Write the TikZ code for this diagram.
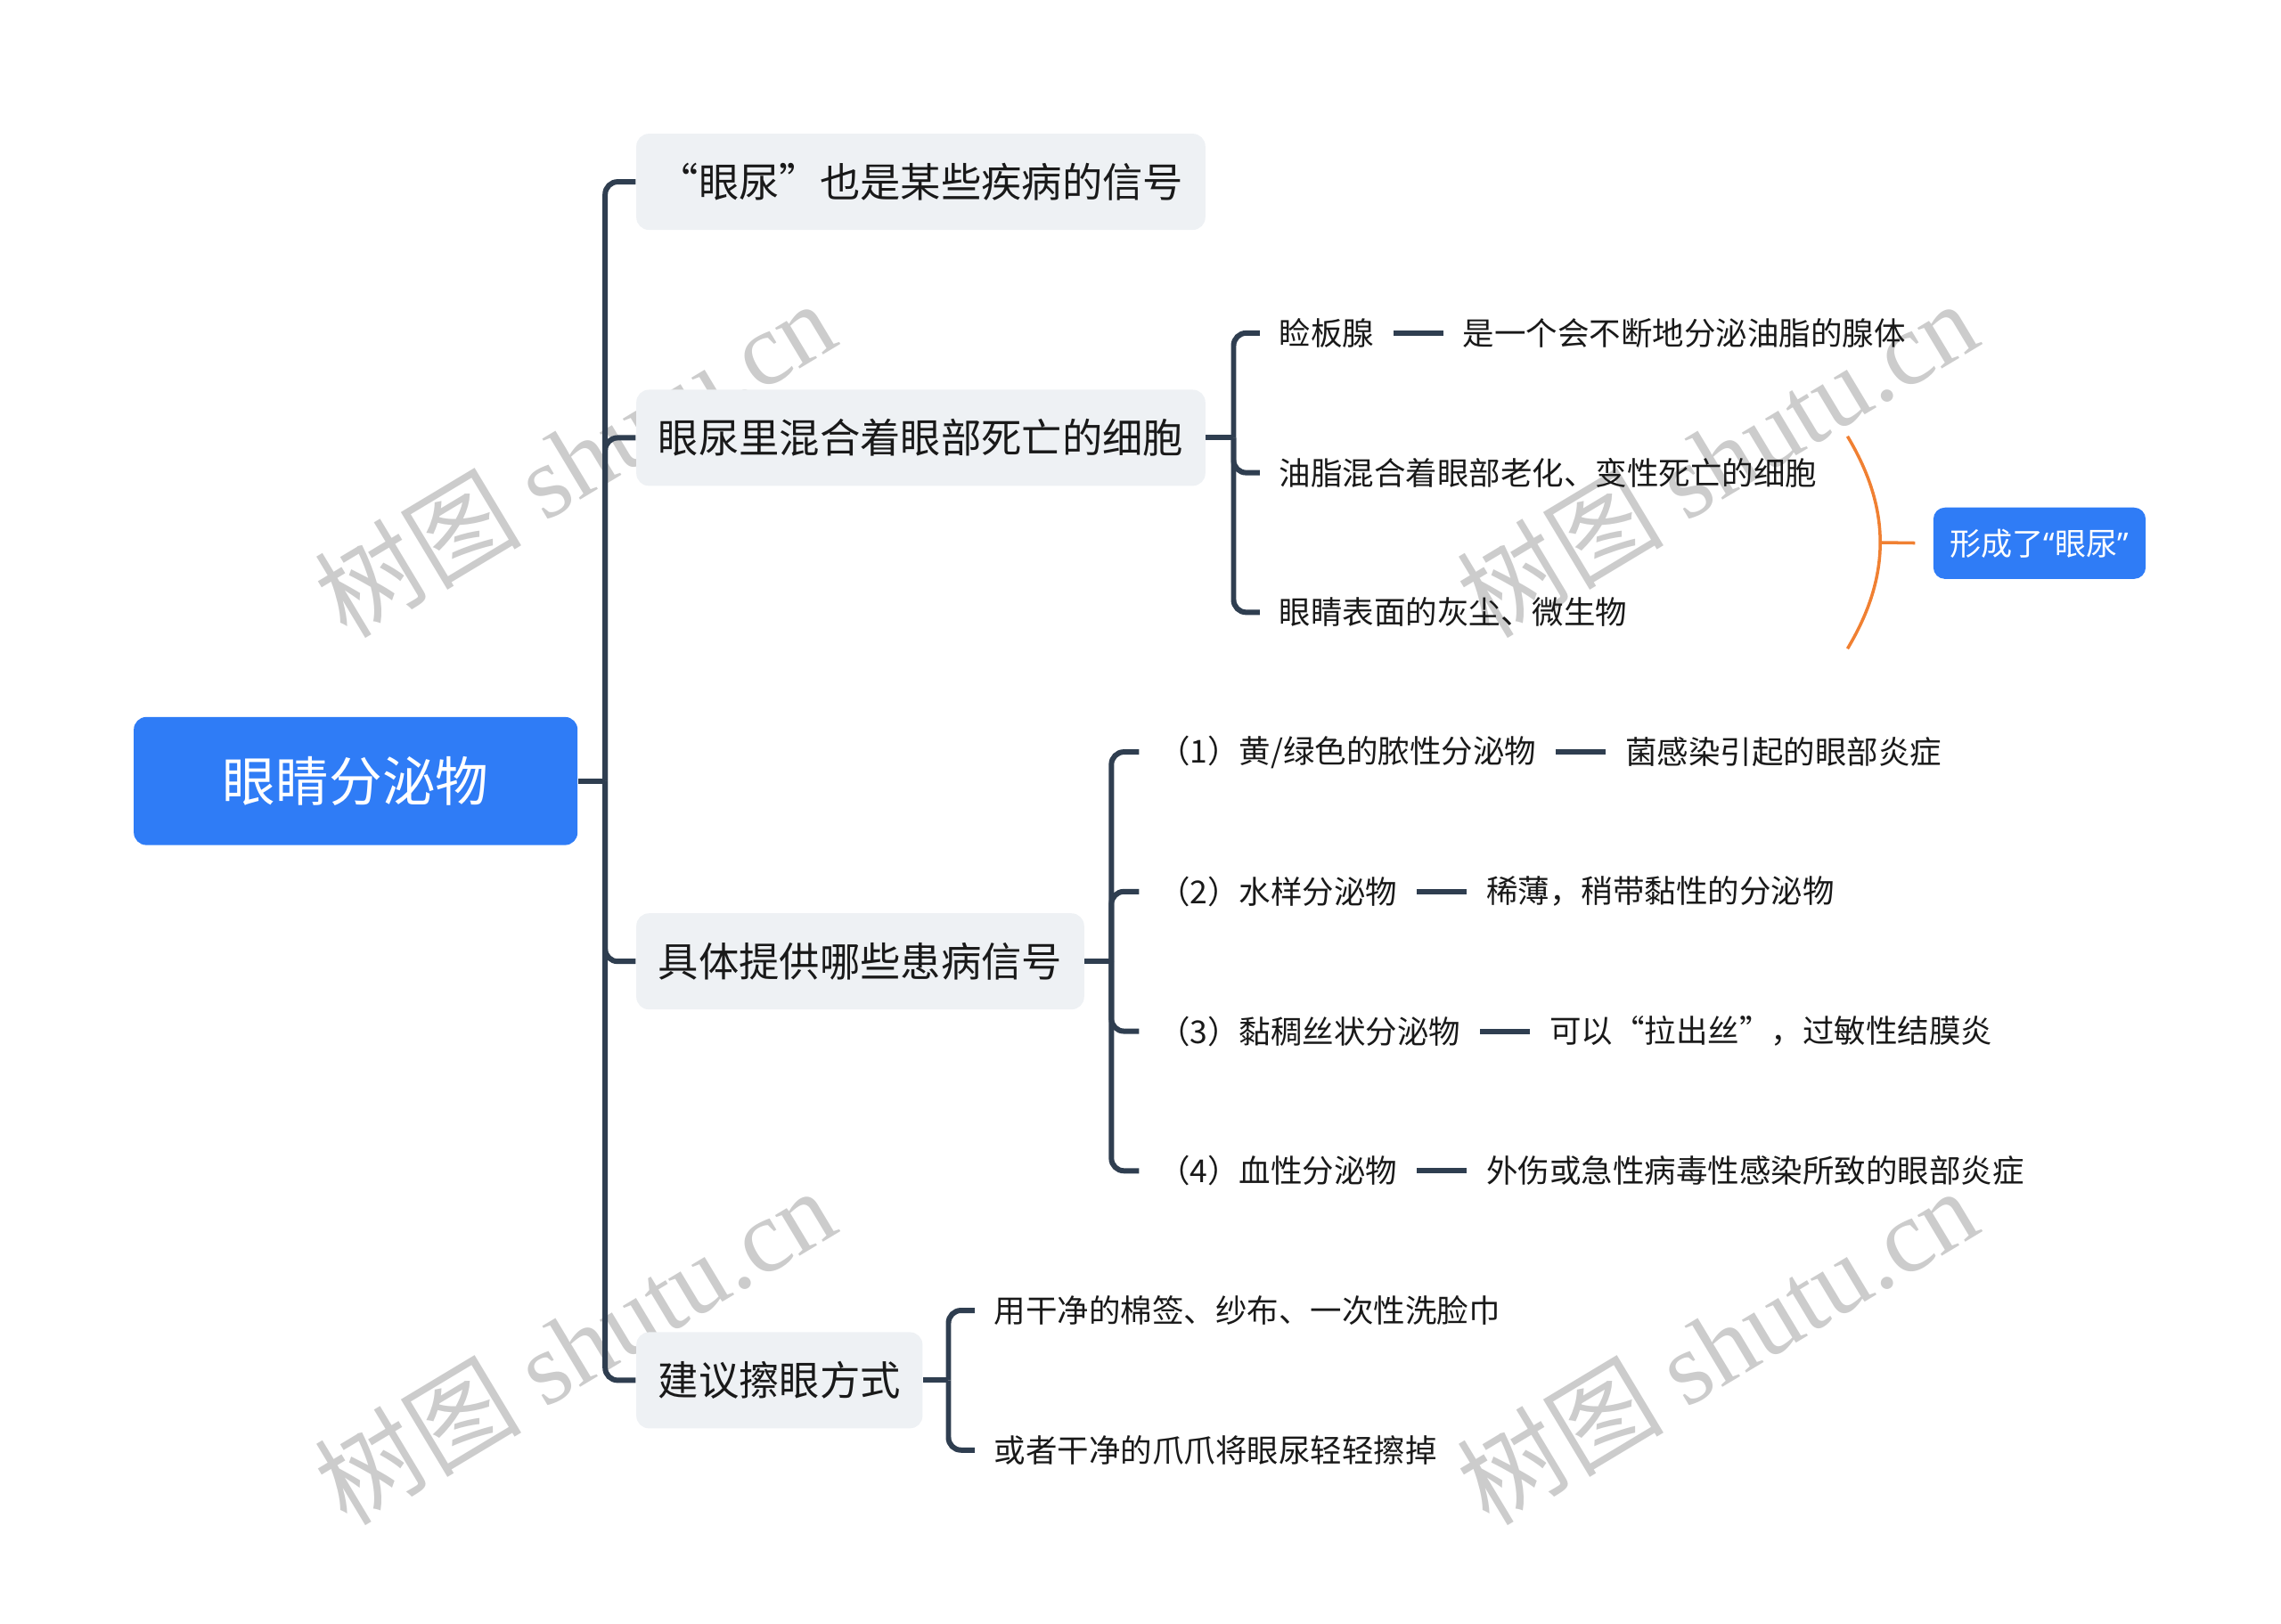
\documentclass[tikz,border=0pt]{standalone}
\usepackage{fontspec}
\setmainfont{Noto Sans CJK SC}
\newfontfamily\latinsans{Noto Sans}
\newfontfamily\wmserif{Liberation Serif}
\usepackage{xcolor}
\usetikzlibrary{positioning}
\definecolor{linea}{HTML}{2F3E50}
\definecolor{azul}{HTML}{2F7CF6}
\definecolor{gris}{HTML}{EEF1F4}
\definecolor{naranja}{HTML}{F08032}
\tikzset{
  root/.style={fill=azul,rounded corners=4pt,text=white,minimum width=141.7pt,minimum height=40.9pt,font=\fontsize{17pt}{20pt}\selectfont},
  topic/.style={fill=gris,rounded corners=4pt,anchor=west,inner xsep=7pt,minimum height=30.7pt,text=black!90,font=\fontsize{12.9pt}{15pt}\selectfont},
  leaf/.style={anchor=west,inner xsep=6pt,inner ysep=2pt,text=black!90,font=\fontsize{10.1pt}{12pt}\selectfont},
  summ/.style={fill=azul,rounded corners=3.7pt,text=white,minimum width=67.8pt,minimum height=22.8pt,font=\fontsize{10pt}{12pt}\selectfont},
  branch/.style={draw=linea,line width=1.7pt,rounded corners=4pt},
  brace/.style={draw=naranja,line width=1pt},
  wmark/.style={rotate=31,inner sep=0pt,text=gray!40,font=\fontsize{33pt}{36pt}\selectfont}
}
\begin{document}
\begin{tikzpicture}[x=0.016327cm,y=-0.016327cm]
\useasboundingbox (0,0) rectangle (1568,1116);
\foreach \p in {(395,315),(1180,315),(395,925),(1180,925)}{\node[wmark] at \p {树图 {\wmserif shutu.cn}};}
\node[root] (r) at (244.5,537) {眼睛分泌物};
\node[topic] (t1) at (437,125) {“眼尿”也是某些疾病的信号};
\node[topic] (t2) at (437,301) {眼尿里混合着眼部死亡的细胞};
\node[topic] (t3) at (437,661) {具体提供哪些患病信号};
\node[topic] (t4) at (437,949) {建议擦眼方式};
\coordinate (j0) at (416,537);
\draw[branch] (r.east) -- (j0);
\foreach \t in {t1,t2,t3,t4}{\draw[branch] (j0) |- (\t.west);}
% ojo: glandulas y restos
\node[leaf] (a1) at (866,229) {睑板腺};
\node[leaf,right=16pt of a1] (a1-d) {是一个会不断地分泌油脂的腺体};
\node[leaf] (a2) at (866,325) {油脂混合着眼部老化、变性死亡的细胞};
\node[leaf] (a3) at (866,421) {眼睛表面的灰尘、微生物};
\coordinate (j2) at (848,301);
\draw[branch] (t2.east) -- (j2);
\foreach \c in {a1,a2,a3}{\draw[branch] (j2) |- (\c.west);}
% senales
\node[leaf] (b1) at (783,517) {（1）黄/绿色的脓性分泌物};
\node[leaf,right=16pt of b1] (b1-d) {菌感染引起的眼部炎症};
\node[leaf] (b2) at (783,613) {（2）水样分泌物};
\node[leaf,right=16pt of b2] (b2-d) {稀薄，稍带黏性的分泌物};
\node[leaf] (b3) at (783,709) {（3）黏稠丝状分泌物};
\node[leaf,right=16pt of b3] (b3-d) {可以“拉出丝”，过敏性结膜炎};
\node[leaf] (b4) at (783,805) {（4）血性分泌物};
\node[leaf,right=16pt of b4] (b4-d) {外伤或急性病毒性感染所致的眼部炎症};
\coordinate (j3) at (764,661);
\draw[branch] (t3.east) -- (j3);
\foreach \c in {b1,b2,b3,b4}{\draw[branch] (j3) |- (\c.west);}
\foreach \c in {a1,b1,b2,b3,b4}{\draw[branch] (\c.east) -- (\c-d.west);}
% limpieza
\node[leaf] (c1) at (670,901) {用干净的棉签、纱布、一次性洗脸巾};
\node[leaf] (c2) at (670,997) {或者干净的爪爪将眼尿轻轻擦掉};
\coordinate (j4) at (652,949);
\draw[branch] (t4.east) -- (j4);
\foreach \c in {c1,c2}{\draw[branch] (j4) |- (\c.west);}
% resumen
\coordinate (s0) at (1270,300); \coordinate (s1) at (1270,446); \coordinate (sa) at (1293,373);
\draw[brace] (s0) .. controls (1300,350) and (1300,396) .. (s1);
\node[summ] (s) at (1402,373.5) {形成了{\latinsans “}眼尿{\latinsans ”}};
\draw[brace,shorten >=5.6pt] (sa) -- (s.west);
\end{tikzpicture}
\end{document}
